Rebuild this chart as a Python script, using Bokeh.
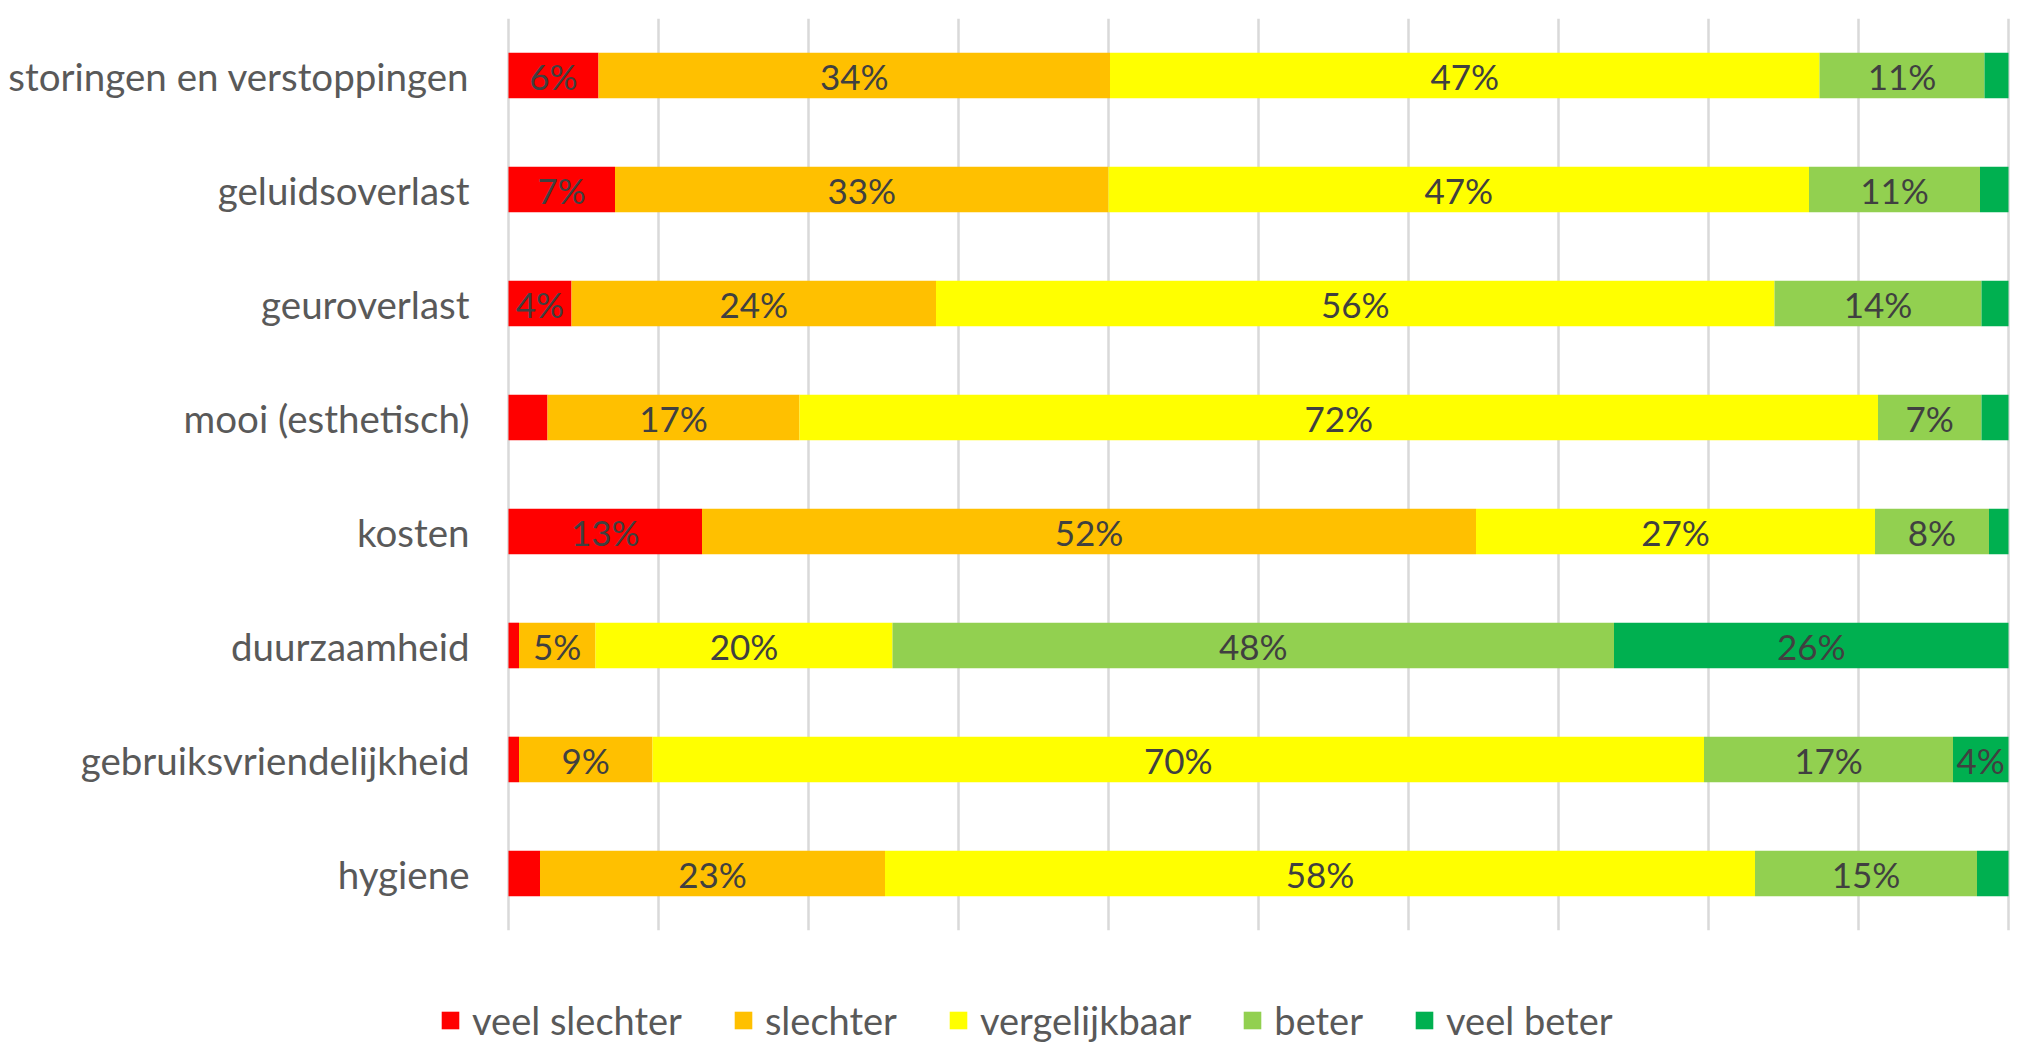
from bokeh.plotting import figure
from bokeh.models import (ColumnDataSource, FactorRange, Range1d, FixedTicker,
                          LabelSet, Legend, LegendItem, Grid)
from bokeh.layouts import column
from bokeh.core.properties import value
from bokeh.embed import file_html
from bokeh.resources import INLINE

categories = ["storingen en verstoppingen", "geluidsoverlast", "geuroverlast",
              "mooi (esthetisch)", "kosten", "duurzaamheid",
              "gebruiksvriendelijkheid", "hygiene"]
series = ["veel slechter", "slechter", "vergelijkbaar", "beter", "veel beter"]
colors = ["#FF0000", "#FFC000", "#FFFF00", "#92D050", "#00B050"]

veel_slechter = [6.0, 7.1, 4.2, 2.6, 12.9, 0.7, 0.7, 2.1]
slechter = [34.1, 32.9, 24.3, 16.8, 51.6, 5.1, 8.9, 23.0]
vergelijkbaar = [47.3, 46.7, 55.9, 71.9, 26.6, 19.8, 70.1, 58.0]
beter = [11.0, 11.4, 13.8, 6.9, 7.6, 48.1, 16.6, 14.8]
veel_beter = [1.6, 1.9, 1.8, 1.8, 1.3, 26.3, 3.7, 2.1]

grid_ticks = [0, 10, 20, 30, 40, 50, 60, 70, 80, 90, 100]

values = [veel_slechter, slechter, vergelijkbaar, beter, veel_beter]
data = {"cat": categories}
for name, vals in zip(series, values):
    data[name] = vals
source = ColumnDataSource(data)

FONT = "Lato"
PAD = 0.2  # small range padding so the 0% and 100% gridlines are not clipped

p = figure(width=2021, height=937, output_backend="svg", toolbar_location=None,
           y_range=FactorRange(factors=list(reversed(categories)), range_padding=0),
           x_range=Range1d(-PAD, 100 + PAD), x_axis_location=None,
           min_border_left=505, min_border_right=10, min_border_top=18,
           min_border_bottom=7)
p.outline_line_color = None
p.background_fill_color = "white"

renderers = p.hbar_stack(series, y="cat", height=0.4, color=colors,
                         line_color=None, source=source)

# data labels
lx, ly, lt = [], [], []
for i, cat in enumerate(categories):
    left = 0.0
    for vals in values:
        v = vals[i]
        if round(v) >= 4:
            lx.append(left + v / 2.0)
            ly.append(cat)
            lt.append(f"{round(v)}%")
        left += v
lab_src = ColumnDataSource(dict(x=lx, y=ly, t=lt))
labels = LabelSet(x="x", y="y", text="t", source=lab_src,
                  text_align="center", text_baseline="middle",
                  text_font=value(FONT), text_font_size=value("35px"),
                  text_color="#404040")
p.add_layout(labels)

# vertical gridlines
p.xgrid.visible = False
p.ygrid.visible = False
vgrid = Grid(dimension=0, ticker=FixedTicker(ticks=grid_ticks),
             grid_line_color="#D9D9D9", grid_line_width=2.5)
p.add_layout(vgrid, "center")

p.yaxis.axis_line_color = None
p.yaxis.major_tick_line_color = None
p.yaxis.minor_tick_line_color = None
p.yaxis.major_tick_in = 0
p.yaxis.major_tick_out = 0
p.yaxis.major_label_standoff = 36
p.yaxis.major_label_text_font = FONT
p.yaxis.major_label_text_font_size = "38.5px"
p.yaxis.major_label_text_color = "#595959"

# legend in its own strip below the chart
leg = figure(width=2021, height=106, output_backend="svg", toolbar_location=None,
             y_range=FactorRange(factors=list(reversed(categories)), range_padding=0),
             x_range=Range1d(0, 100),
             x_axis_location=None, y_axis_location=None,
             min_border_left=0, min_border_right=0, min_border_top=0,
             min_border_bottom=0)
leg.frame_align = False
leg.outline_line_color = None
leg.xgrid.visible = False
leg.ygrid.visible = False
leg_renderers = leg.hbar_stack(series, y="cat", height=0.4, color=colors,
                               line_color=None, source=source)
for r in leg_renderers:
    r.visible = False
legend = Legend(items=[LegendItem(label=s, renderers=[r])
                       for s, r in zip(series, leg_renderers)],
                orientation="horizontal", location=(439, 0),
                glyph_width=22, glyph_height=22, label_standoff=11, spacing=50,
                padding=0, margin=0, border_line_color=None,
                background_fill_alpha=0, inactive_fill_alpha=0,
                label_text_font=FONT, label_text_font_size="38px",
                label_text_color="#595959")
leg.add_layout(legend, "center")

layout = column(p, leg, spacing=0)
open("out.html", "w").write(file_html(layout, INLINE))
